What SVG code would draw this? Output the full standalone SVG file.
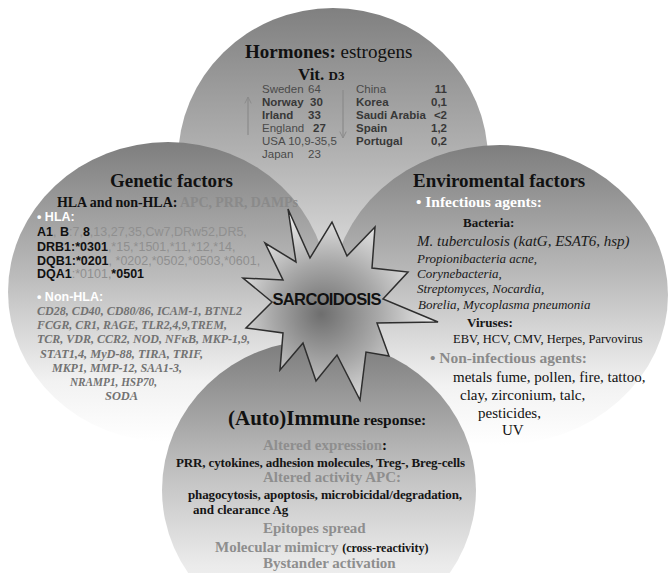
<svg xmlns="http://www.w3.org/2000/svg" width="670" height="573" viewBox="0 0 670 573">
<defs>
<linearGradient id="gTop" x1="0" y1="0" x2="0" y2="1">
<stop offset="0" stop-color="#808080"/><stop offset="0.5" stop-color="#b4b4b4"/><stop offset="1" stop-color="#f0f0f0"/>
</linearGradient>
<linearGradient id="gSide" x1="0" y1="0" x2="0" y2="1">
<stop offset="0" stop-color="#7e7e7e"/><stop offset="0.45" stop-color="#bcbcbc"/><stop offset="0.8" stop-color="#f2f2f2"/><stop offset="1" stop-color="#ffffff"/>
</linearGradient>
<linearGradient id="gBot" x1="0" y1="0" x2="0" y2="1">
<stop offset="0" stop-color="#7c7c7c"/><stop offset="0.45" stop-color="#c2c2c2"/><stop offset="0.75" stop-color="#ebebeb"/><stop offset="1" stop-color="#f8f8f8"/>
</linearGradient>
<radialGradient id="gStar" cx="0.45" cy="0.55" r="0.6" fx="0.4" fy="0.55">
<stop offset="0" stop-color="#6e6e6e"/><stop offset="0.45" stop-color="#a8a8a8"/><stop offset="1" stop-color="#fafafa"/>
</radialGradient>
<marker id="arr" viewBox="0 0 10 10" refX="9" refY="5" markerWidth="8" markerHeight="8" orient="auto-start-reverse" markerUnits="userSpaceOnUse">
<path d="M1,1 L9,5 L1,9" fill="none" stroke="#8a8a8a" stroke-width="1.2"/>
</marker>
<style>
.serif{font-family:"Liberation Serif","Times New Roman",serif;}
.sans{font-family:"Liberation Sans",Arial,sans-serif;}
.h{font-family:"Liberation Serif",serif;font-weight:bold;font-size:19px;fill:#111;}
.c{font-family:"Liberation Sans",Arial,sans-serif;font-size:11.5px;fill:#4a4a4a;}
.cb{font-weight:bold;fill:#383838;}
.hla{font-family:"Liberation Sans",Arial,sans-serif;font-size:12.5px;fill:#8f8f8f;}
.k{font-weight:bold;fill:#111;}
.nh{font-family:"Liberation Serif",serif;font-style:italic;font-weight:bold;font-size:13px;fill:#727272;}
.it{font-family:"Liberation Serif",serif;font-style:italic;font-size:13px;fill:#1a1a1a;}
.rg{font-family:"Liberation Serif",serif;font-size:15px;fill:#111;}
.gb{font-family:"Liberation Serif",serif;font-weight:bold;font-size:15px;fill:#8e8e8e;}
.bb{font-family:"Liberation Serif",serif;font-weight:bold;font-size:13px;fill:#151515;}
.wb{font-family:"Liberation Sans",Arial,sans-serif;font-weight:bold;font-size:12.5px;fill:#ffffff;}
</style>
</defs>
<rect width="670" height="573" fill="#ffffff"/>

<g id="hormones">
<ellipse cx="333" cy="160" rx="155" ry="152" fill="url(#gTop)"/>
<text x="245" y="58" class="h">Hormones: <tspan style="font-weight:normal">estrogens</tspan></text>
<text x="298" y="80" class="serif" style="font-weight:bold;font-size:17px;fill:#111">Vit. <tspan style="font-size:13px">D3</tspan></text>
<g class="c">
<text x="262" y="93">Sweden <tspan x="308">64</tspan></text>
<text x="262" y="106" class="cb">Norway <tspan x="310">30</tspan></text>
<text x="262" y="119" class="cb">Irland <tspan x="308">33</tspan></text>
<text x="262" y="132">England <tspan x="313" class="cb">27</tspan></text>
<text x="262" y="145">USA 10,9-35,5</text>
<text x="262" y="158">Japan <tspan x="308">23</tspan></text>
<text x="356" y="93">China</text><text x="447" y="93" text-anchor="end" class="cb">11</text>
<text x="356" y="106" class="cb">Korea</text><text x="447" y="106" text-anchor="end" class="cb">0,1</text>
<text x="356" y="119" class="cb">Saudi Arabia</text><text x="447" y="119" text-anchor="end" class="cb">&lt;2</text>
<text x="356" y="132" class="cb">Spain</text><text x="447" y="132" text-anchor="end" class="cb">1,2</text>
<text x="356" y="145" class="cb">Portugal</text><text x="447" y="145" text-anchor="end" class="cb">0,2</text>
</g>
</g>

<g id="genetic">
<ellipse cx="168" cy="292" rx="160" ry="150" fill="url(#gSide)"/>
<text x="110" y="187" class="h">Genetic factors</text>
<text x="57" y="207" class="serif" style="font-weight:bold;font-size:14px;fill:#111" textLength="241">HLA and non-HLA: <tspan style="fill:#8a8a8a">APC, PRR, DAMPs</tspan></text>
<text x="37" y="221" class="wb">• HLA:</text>
<text x="37" y="236" class="hla"><tspan class="k">A1</tspan>, <tspan class="k">B</tspan>:7,<tspan class="k">8</tspan>,13,27,35,Cw7,DRw52,DR5,</text>
<text x="37" y="251" class="hla"><tspan class="k">DRB1:*0301</tspan>,*15,*1501,*11,*12,*14,</text>
<text x="37" y="265" class="hla"><tspan class="k">DQB1:*0201</tspan>, *0202,*0502,*0503,*0601,</text>
<text x="37" y="278" class="hla"><tspan class="k">DQA1</tspan>:*0101,<tspan class="k">*0501</tspan></text>
<text x="37" y="301" class="wb">•  Non-HLA:</text>
<text x="37" y="315" class="nh" textLength="205" lengthAdjust="spacingAndGlyphs">CD28, CD40, CD80/86, ICAM-1, BTNL2</text>
<text x="37" y="329" class="nh" textLength="190" lengthAdjust="spacingAndGlyphs">FCGR, CR1, RAGE, TLR2,4,9,TREM,</text>
<text x="37" y="343" class="nh" textLength="213" lengthAdjust="spacingAndGlyphs">TCR, VDR, CCR2, NOD, NFκB, MKP-1,9,</text>
<text x="40" y="358" class="nh" textLength="163" lengthAdjust="spacingAndGlyphs">STAT1,4, MyD-88,  TIRA, TRIF,</text>
<text x="52" y="372" class="nh" textLength="130" lengthAdjust="spacingAndGlyphs">MKP1, MMP-12, SAA1-3,</text>
<text x="70" y="386" class="nh" textLength="87" lengthAdjust="spacingAndGlyphs">NRAMP1, HSP70,</text>
<text x="105" y="400" class="nh" textLength="33" lengthAdjust="spacingAndGlyphs">SODA</text>
</g>

<g id="environmental">
<ellipse cx="500" cy="295" rx="168" ry="150" fill="url(#gSide)"/>
<text x="413" y="187" class="h">Enviromental factors</text>
<text x="416" y="207" class="serif" style="font-weight:bold;font-size:15.5px;fill:#ffffff">•  Infectious agents:</text>
<text x="463" y="227" class="bb">Bacteria:</text>
<text x="417" y="246" class="it" style="font-size:15px">M. tuberculosis (katG, ESAT6, hsp)</text>
<text x="417" y="263" class="it">Propionibacteria acne,</text>
<text x="417" y="278" class="it">Corynebacteria,</text>
<text x="417" y="293" class="it">Streptomyces, Nocardia,</text>
<text x="418" y="309" class="it">Borelia, Mycoplasma pneumonia</text>
<text x="467" y="327" class="bb">Viruses:</text>
<text x="453" y="343" class="serif" style="font-size:12.5px;fill:#111">EBV, HCV, CMV, Herpes, Parvovirus</text>
<text x="430" y="363" class="serif" style="font-weight:bold;font-size:15.5px;fill:#8a8a8a">•  Non-infectious agents:</text>
<text x="453" y="382" class="rg">metals fume, pollen, fire, tattoo,</text>
<text x="460" y="400" class="rg">clay, zirconium, talc,</text>
<text x="478" y="418" class="rg">pesticides,</text>
<text x="502" y="435" class="rg">UV</text>
</g>

<g id="immune">
<ellipse cx="319" cy="490" rx="157" ry="150" fill="url(#gBot)"/>
<text x="228" y="425" class="serif" style="font-weight:bold;font-size:21px;fill:#111">(Auto)Immun<tspan style="font-size:15.5px">e response:</tspan></text>
<text x="263" y="450" class="gb">Altered expression<tspan style="fill:#111">:</tspan></text>
<text x="176" y="467" class="bb" textLength="289">PRR, cytokines, adhesion molecules,  Treg-,  Breg-cells</text>
<text x="263" y="482" class="gb">Altered activity APC:</text>
<text x="188" y="499" class="bb" textLength="274">phagocytosis, apoptosis, microbicidal/degradation,</text>
<text x="193" y="514" class="bb">and clearance Ag</text>
<text x="263" y="533" class="gb">Epitopes spread</text>
<text x="215" y="552" class="gb">Molecular mimicry <tspan class="bb" style="font-size:12px">(cross-reactivity)</tspan></text>
<text x="263" y="568" class="gb">Bystander activation</text>
</g>

<g id="sarcoidosis">
<polygon points="288,209 310,258 332,222 347,256 375,227 372,268 408,272 383,299 438,322 377,323 389,356 366,352 360,400 337,355 316,381 303,343 280,370 283,333 246,328 272,302 243,278 283,280 265,243 296,262" fill="url(#gStar)" stroke="#2e2e2e" stroke-width="1.5" stroke-linejoin="miter"/>
<text x="327" y="305" text-anchor="middle" class="sans" style="font-weight:bold;font-size:16.5px;fill:#111" textLength="109">SARCOIDOSIS</text>
</g>

<g id="connectors">
<line x1="248" y1="135" x2="248" y2="97" stroke="#8a8a8a" stroke-width="1.2" marker-end="url(#arr)"/>
<line x1="343" y1="90" x2="343" y2="138" stroke="#8a8a8a" stroke-width="1.2" marker-end="url(#arr)"/>
</g>
</svg>
